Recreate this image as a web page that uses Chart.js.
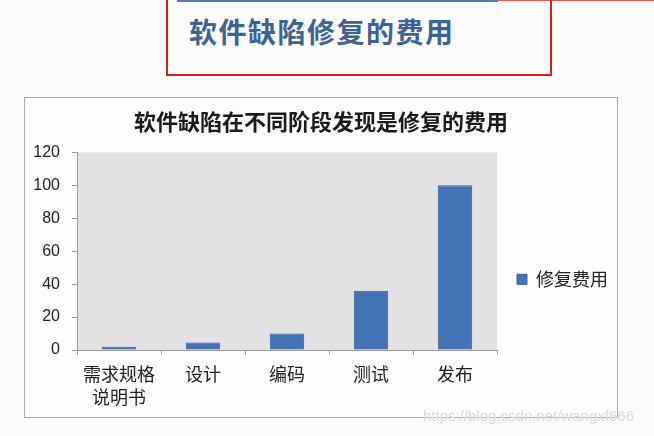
<!DOCTYPE html>
<html>
<head>
<meta charset="utf-8">
<script src="https://cdn.jsdelivr.net/npm/chart.js@4"></script>
<style>
  body { margin: 0; background: #fbfbfb; width: 654px; height: 436px; overflow: hidden; position: relative; font-family: "Noto Sans CJK SC", sans-serif; }
  #lineBlue { position: absolute; left: 177px; top: 0; width: 321px; height: 2px; background: #4d7db3; }
  #lineRed { position: absolute; left: 498px; top: 0; width: 156px; height: 1px; background: #e85a50; }
  #redBox { position: absolute; left: 166px; top: -3px; width: 382px; height: 75px; border: 2px solid #e41a14; }
  #slideTitle { position: absolute; left: 189px; top: 12px; font-size: 28px; font-weight: 700; color: #3b6393; letter-spacing: 1.5px; line-height: 38px; }
  #chartBox { position: absolute; left: 24px; top: 97px; width: 592px; height: 319px; border: 1px solid #a9a9a9; background: #fdfdfd; }
  #chartBox canvas { position: absolute; left: 0; top: 0; }
  #mark { position: absolute; left: 423px; top: 407px; font-family: "Liberation Sans", sans-serif; font-size: 15px; color: #d8d8d8; text-shadow: 0 0 1px #fff; }
</style>
</head>
<body>
<div id="lineBlue"></div>
<div id="lineRed"></div>
<div id="redBox"></div>
<div id="slideTitle">软件缺陷修复的费用</div>
<div id="chartBox"><canvas id="myChart" width="592" height="319"></canvas></div>
<div id="mark">https://blog.csdn.net/wangxf666</div>
<script>
const categorias = [['需求规格', '说明书'], '设计', '编码', '测试', '发布'];
const custos = [2, 4.5, 10, 36, 100];
const yTicks = [0, 20, 40, 60, 80, 100, 120];
const nomeSerie = '修复费用';
const tituloGrafico = '软件缺陷在不同阶段发现是修复的费用';

const ctx = document.getElementById('myChart').getContext('2d');

// fundo cinza so na area de plotagem
const fundoPlot = {
  id: 'fundoPlot',
  beforeDraw(chart) {
    const a = chart.chartArea;
    const c = chart.ctx;
    c.save();
    c.fillStyle = '#e2e2e2';
    c.fillRect(a.left, a.top, a.right - a.left, a.bottom - a.top);
    c.restore();
  }
};

new Chart(ctx, {
  type: 'bar',
  data: {
    labels: categorias,
    datasets: [{
      label: nomeSerie,
      data: custos,
      backgroundColor: '#4373b5',
      borderColor: '#33609c',
      borderWidth: 1,
      categoryPercentage: 1,
      barPercentage: 0.41
    }]
  },
  options: {
    responsive: false,
    animation: false,
    layout: { padding: 0 },
    plugins: {
      title: {
        display: true,
        text: tituloGrafico,
        color: '#1a1a1a',
        font: { family: '"Noto Sans CJK SC"', size: 22, weight: 'bold' },
        padding: { top: 10, bottom: 18 }
      },
      legend: {
        position: 'right',
        maxWidth: 120,
        title: {
          display: true,
          text: ' ',
          font: { size: 18 },
          padding: { top: 0, bottom: 22 }
        },
        labels: {
          boxWidth: 10,
          boxHeight: 10,
          color: '#222',
          font: { family: '"Noto Sans CJK SC"', size: 18 },
          padding: 20
        }
      },
      tooltip: { enabled: false }
    },
    scales: {
      x: {
        afterFit: (scale) => { scale.height = 67; },
        grid: { drawOnChartArea: false, drawTicks: true, tickLength: 5, color: '#9a9a9a', offset: true },
        border: { color: '#9a9a9a' },
        ticks: {
          color: '#222',
          padding: 7,
          maxRotation: 0,
          font: { family: '"Noto Sans CJK SC"', size: 18, lineHeight: 1.3 }
        }
      },
      y: {
        min: 0,
        max: 120,
        afterBuildTicks: (scale) => { scale.ticks = yTicks.map(v => ({ value: v })); },
        afterFit: (scale) => { scale.width = 52; },
        grid: { drawOnChartArea: false, drawTicks: true, tickLength: 5, color: '#9a9a9a' },
        border: { color: '#9a9a9a' },
        ticks: {
          color: '#222',
          padding: 12,
          font: { family: '"Liberation Sans", sans-serif', size: 16 }
        }
      }
    }
  },
  plugins: [fundoPlot]
});
</script>
</body>
</html>
